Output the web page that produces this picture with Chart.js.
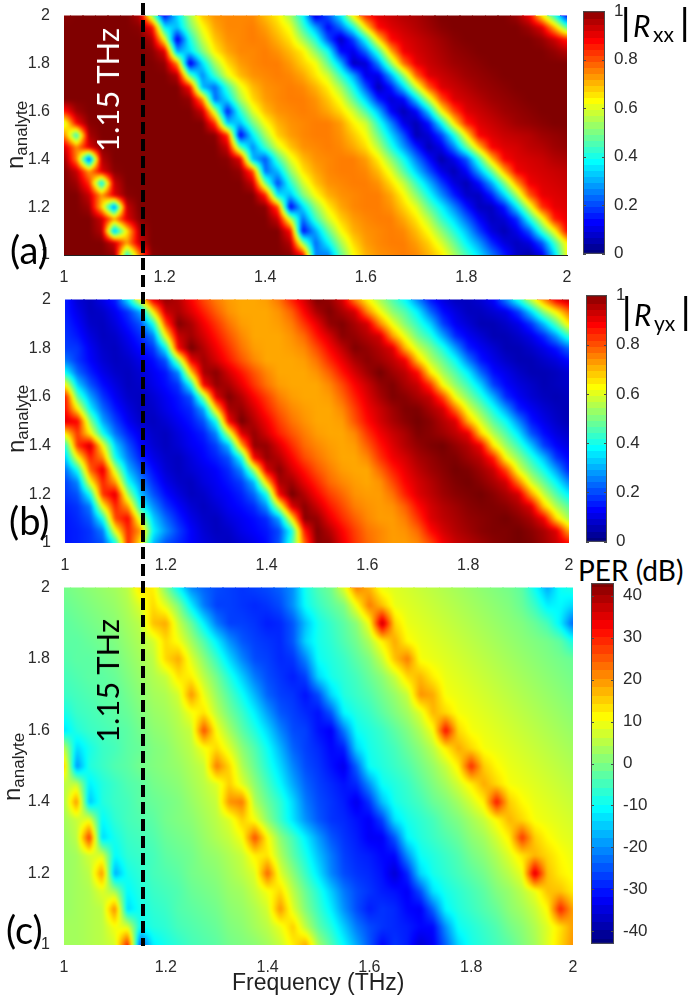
<!DOCTYPE html>
<html lang="en">
<head>
<meta charset="UTF-8">
<title>Rxx Ryx PER maps</title>
<script src="https://cdn.jsdelivr.net/npm/chart.js"></script>
<style>
    html, body { margin: 0; background: #fff; overflow: hidden; }
    #page { position: relative; width: 688px; height: 996px; }
    canvas { position: absolute; }
    .t { position: absolute; white-space: nowrap; color: #000; font-family: 'Lato', sans-serif; }
    .axis { font-family: 'Liberation Sans', sans-serif; color: #222; }
    .up { transform: translate(-50%, -50%) rotate(-90deg); }
    .axis sub { font-size: 17px; vertical-align: -4px; }
    #cut { position: absolute; left: 141px; top: 3px; width: 4px; height: 943px;
           background: repeating-linear-gradient(to bottom, #000 0 12px, transparent 12px 17px); }
</style>
</head>
<body>
<div id="page">
    <div class="t" style="left:578px;top:553px;font-size:28px">PER (dB)</div>
</div>
<script>
const freqs = [1,1.025,1.05,1.075,1.1,1.125,1.15,1.175,1.2,1.225,1.25,1.275,1.3,1.325,1.35,1.375,1.4,1.425,1.45,1.475,1.5,1.525,1.55,1.575,1.6,1.625,1.65,1.675,1.7,1.725,1.75,1.775,1.8,1.825,1.85,1.875,1.9,1.925,1.95,1.975,2];
const nAnalyte = [2,1.95,1.9,1.85,1.8,1.75,1.7,1.65,1.6,1.55,1.5,1.45,1.4,1.35,1.3,1.25,1.2,1.15,1.1,1.05,1];

// |Rxx| in percent, one row per nAnalyte value, top row first
const rxx = [
[96,97,97,97,97,97,92,50,12,33,52,66,71,72,72,72,67,62,52,37,8,20,35,62,82,88,90,92,93,95,97,97,97,97,97,97,94,86,62,40,12],
[97,97,97,97,97,97,96,85,35,30,47,60,69,72,72,73,70,65,59,43,28,12,22,38,63,84,88,90,92,94,96,97,97,97,97,97,97,94,88,68,45],
[97,97,97,97,97,97,97,93,60,9,38,55,66,71,72,73,72,68,63,52,40,20,6,18,38,64,84,88,90,92,94,96,97,97,97,97,97,97,95,90,82],
[97,97,97,97,97,97,97,96,88,28,33,48,62,69,72,72,73,71,67,62,50,38,13,10,22,42,68,86,89,91,93,95,96,97,97,97,97,97,97,95,92],
[97,97,97,97,97,97,97,97,95,72,8,33,52,64,70,72,73,73,70,65,60,46,30,6,8,25,50,74,87,90,92,94,95,96,97,97,97,97,97,97,97],
[97,97,97,97,97,97,97,97,97,92,45,25,42,58,67,71,72,73,72,69,63,56,42,28,10,10,28,50,75,88,90,92,94,95,96,97,97,97,97,97,97],
[97,97,97,97,97,97,97,97,97,97,85,30,22,42,58,67,71,72,73,72,68,62,52,38,20,5,14,32,55,76,88,90,92,94,95,96,97,97,97,97,97],
[97,97,97,97,97,97,97,97,97,97,95,72,22,33,52,64,70,72,73,73,71,66,59,46,32,15,8,12,32,55,77,88,90,92,94,95,96,97,97,97,97],
[82,94,97,97,97,97,97,97,97,97,97,90,55,14,40,57,67,71,72,73,72,69,64,56,44,30,12,5,12,32,60,78,88,90,92,94,95,96,97,97,97],
[55,85,96,97,97,97,97,97,97,97,97,97,80,32,30,47,60,68,71,72,73,73,70,62,56,40,25,10,5,14,36,62,82,88,90,92,94,95,96,97,97],
[74,40,93,97,97,97,97,97,97,97,97,97,96,80,10,35,52,65,70,72,73,73,71,66,60,47,33,20,5,8,18,38,62,85,88,90,91,92,94,95,96],
[90,72,88,96,97,97,97,97,97,97,97,97,97,90,45,25,42,57,66,71,72,73,72,69,64,54,40,27,15,5,10,24,45,66,85,88,89,91,92,94,95],
[96,72,18,92,97,97,97,97,97,97,97,97,97,96,88,30,20,43,58,67,71,72,73,73,70,62,50,38,24,13,4,10,20,42,66,85,88,89,90,92,93],
[97,90,70,88,96,97,97,97,97,97,97,97,97,97,95,78,22,30,50,63,69,72,73,73,72,67,58,45,32,20,10,5,12,28,46,68,86,88,89,90,91],
[97,94,80,34,90,97,97,97,97,97,97,97,97,97,97,90,48,18,40,56,66,71,72,73,73,71,64,55,42,30,18,9,5,13,28,48,70,86,88,89,90],
[97,97,90,70,88,96,97,97,97,97,97,97,97,97,97,97,82,35,30,48,60,68,71,72,73,73,69,61,50,38,26,15,7,6,15,32,52,76,87,88,89],
[97,97,94,65,22,90,97,97,97,97,97,97,97,97,97,97,96,78,10,33,50,62,69,72,73,73,71,65,58,46,36,25,14,6,6,14,34,56,80,87,88],
[97,97,97,90,70,88,96,97,97,97,97,97,97,97,97,97,97,90,55,22,42,56,65,70,72,73,73,69,63,54,42,33,22,12,6,8,16,38,58,82,87],
[97,97,97,92,28,62,92,97,97,97,97,97,97,97,97,97,97,97,84,12,28,46,60,68,71,72,73,72,67,60,50,40,30,18,9,5,10,20,42,60,85],
[97,97,97,97,90,70,90,97,97,97,97,97,97,97,97,97,97,97,92,50,22,36,52,64,70,72,73,73,70,65,57,47,36,27,16,9,6,9,20,42,62],
[97,97,97,97,95,38,72,96,97,97,97,97,97,97,97,97,97,97,96,85,25,24,45,60,68,71,72,73,72,68,63,53,43,34,24,15,7,4,10,32,60]
];

// |Ryx| in percent
const ryx = [
[15,8,6,10,15,35,62,88,95,92,85,78,73,70,69,69,70,74,82,89,97,95,89,72,61,52,44,36,24,14,9,6,6,8,12,25,40,56,72,87,92],
[15,10,6,7,11,17,28,62,90,93,88,82,76,71,69,69,69,71,76,85,93,97,93,89,72,60,50,44,35,22,13,9,6,6,8,10,18,33,50,62,75],
[16,12,7,6,9,14,20,38,78,97,93,86,80,74,70,69,69,70,73,80,87,95,97,93,89,72,59,49,41,32,18,11,8,5,5,7,10,17,30,45,63],
[17,14,9,6,7,11,16,24,60,90,94,89,83,77,72,69,69,69,71,75,83,89,96,95,92,89,70,58,47,40,28,16,11,8,5,5,7,10,16,27,42],
[18,17,11,7,6,9,13,17,36,85,98,92,86,80,74,70,69,69,70,72,78,85,91,97,95,92,88,68,56,48,39,27,15,11,8,5,5,7,10,14,22],
[24,17,12,8,6,7,10,13,20,50,86,94,89,83,77,72,69,69,69,70,74,81,87,93,96,94,91,86,66,54,46,37,24,14,10,7,5,5,7,9,13],
[38,22,15,10,7,6,8,11,14,25,65,93,96,89,83,77,72,69,69,69,71,76,83,89,94,98,94,91,84,63,52,44,35,22,13,10,7,5,5,6,8],
[62,32,20,13,9,6,7,10,13,17,38,85,95,93,87,80,74,70,69,69,69,72,78,85,90,95,97,93,90,80,60,50,42,32,18,12,9,7,5,6,7],
[85,45,28,17,11,7,6,8,11,14,20,50,88,97,92,85,79,73,70,69,69,70,75,82,88,93,97,96,93,90,78,59,49,40,29,16,11,8,6,5,6],
[85,62,36,22,14,9,6,7,10,13,16,28,65,93,95,89,82,76,72,70,69,69,72,79,86,90,94,97,97,93,89,74,58,48,38,27,15,11,8,6,5],
[88,85,50,28,18,11,7,6,8,11,14,20,38,85,98,92,86,79,74,71,69,69,70,77,84,89,93,96,98,96,92,88,68,56,45,37,25,14,10,7,5],
[62,80,62,38,23,15,10,7,6,9,12,15,25,55,88,95,89,82,77,73,70,69,69,72,80,86,90,93,97,96,94,91,87,65,53,44,34,20,13,9,7],
[38,80,90,60,32,20,12,8,6,8,11,13,18,30,68,95,95,88,81,75,72,70,69,70,76,83,88,92,95,97,98,95,92,86,63,51,42,31,18,12,9],
[30,60,82,72,38,24,15,10,7,6,9,12,15,20,38,85,95,92,85,78,74,71,69,69,72,80,86,89,93,95,97,97,94,91,82,60,50,40,30,17,12],
[22,38,75,88,55,30,20,13,8,6,8,10,12,16,25,52,88,96,89,83,77,73,70,69,69,75,82,87,91,94,96,98,97,94,90,78,58,47,38,27,15],
[18,25,60,82,70,38,25,16,10,7,6,9,11,14,18,30,65,93,94,87,81,75,72,70,69,71,78,85,89,92,95,97,98,96,93,89,73,56,46,36,25],
[17,20,38,80,88,52,30,20,13,9,6,7,10,12,15,22,38,85,98,92,85,79,75,71,70,70,74,82,88,91,94,96,97,98,96,93,89,70,55,44,35],
[15,17,24,60,82,70,38,26,17,12,8,6,8,11,13,16,26,55,88,96,90,83,78,73,71,70,71,76,84,89,92,94,96,97,97,96,93,88,66,53,45],
[14,16,20,38,78,85,55,32,22,15,10,7,6,9,11,13,16,28,62,96,95,87,81,76,72,70,70,73,80,88,91,93,95,96,97,98,96,93,86,64,52],
[14,15,17,24,60,82,70,36,26,18,12,8,6,7,10,12,14,19,38,82,97,92,85,79,74,72,70,71,75,84,89,92,94,96,97,97,98,96,93,88,68],
[14,15,17,20,38,82,62,30,20,16,12,9,7,6,8,10,13,20,42,75,96,95,87,80,75,72,70,70,72,78,86,90,92,94,96,97,98,97,94,90,84]
];

// PER in dB
const per = [
[-1,0,1,2,3,5,13,12,0,-11,-21,-24,-26,-27,-28,-27,-26,-24,-20,-9,-4,-1,8,22,17,9,8,7,6,5,4,3,2,1,0,-1,-3,-10,-18,-10,-8],
[-2,-1,0,1,2,4,8,14,8,0,-12,-22,-27,-27,-28,-29,-28,-26,-20,-10,-6,-3,0,10,22,16,9,8,7,6,5,4,3,2,1,0,-2,-6,-12,-11,-14],
[-3,-2,-1,0,1,3,5,16,18,6,-2,-12,-22,-27,-27,-28,-30,-29,-25,-16,-9,-6,-3,1,10,38,14,9,8,7,6,5,4,3,2,1,0,-2,-5,-12,-24],
[-3,-3,-2,-1,0,2,4,7,14,10,3,-4,-12,-20,-25,-27,-28,-29,-25,-14,-9,-7,-4,-1,4,12,18,11,9,8,7,6,5,4,3,2,1,0,-1,-3,-9],
[-4,-3,-3,-2,-1,1,3,5,14,18,8,1,-6,-14,-21,-26,-27,-29,-28,-21,-10,-8,-6,-3,0,6,16,22,10,9,8,7,6,5,4,3,2,1,0,-1,-2],
[-5,-4,-3,-3,-2,0,2,4,6,13,12,5,-1,-8,-15,-22,-26,-28,-30,-27,-14,-9,-7,-5,-2,1,6,14,17,12,9,8,7,6,5,4,3,2,1,0,-1],
[-6,-5,-4,-3,-3,-1,1,3,4,7,20,9,2,-4,-10,-17,-24,-27,-28,-31,-26,-14,-8,-6,-4,-1,2,6,20,18,10,9,8,7,6,5,4,3,2,1,0],
[-9,-6,-5,-4,-3,-2,0,2,3,5,10,13,5,-1,-6,-12,-19,-25,-27,-29,-31,-25,-11,-8,-6,-3,0,3,8,17,14,10,9,8,7,6,5,4,3,2,1],
[-13,-8,-6,-5,-4,-3,-1,1,2,4,6,26,10,3,-3,-8,-14,-21,-26,-27,-31,-33,-22,-10,-8,-6,-3,0,4,10,32,14,10,9,8,7,6,5,4,3,2],
[6,-14,-9,-6,-5,-3,-2,0,1,3,5,10,14,8,1,-4,-10,-17,-24,-27,-29,-32,-30,-14,-9,-7,-5,-2,1,5,12,18,14,10,9,8,7,6,5,4,3],
[16,-20,-8,-6,-4,-3,-1,0,1,2,4,6,22,14,4,-2,-8,-14,-21,-26,-28,-31,-34,-24,-10,-8,-6,-4,-1,2,6,12,29,15,11,9,8,7,6,5,4],
[5,6,-12,-8,-6,-4,-3,-1,0,1,3,5,8,15,8,1,-5,-11,-18,-24,-27,-29,-31,-29,-20,-10,-8,-6,-3,0,3,7,12,18,14,10,9,8,7,6,5],
[3,20,-16,-8,-6,-5,-3,-2,-1,0,2,4,6,20,22,4,-2,-7,-14,-22,-26,-28,-30,-34,-28,-16,-9,-7,-5,-2,0,3,7,12,31,15,11,9,8,7,6],
[3,6,9,-11,-7,-5,-4,-3,-1,0,1,3,5,8,15,10,1,-6,-13,-20,-25,-28,-29,-31,-33,-27,-13,-9,-7,-5,-2,0,3,6,11,17,14,10,9,8,7],
[2,5,28,-14,-9,-6,-5,-4,-2,-1,0,2,4,6,10,26,11,1,-5,-12,-19,-25,-28,-30,-33,-33,-25,-11,-8,-6,-4,-2,1,3,7,12,28,15,11,9,8],
[2,3,7,8,-11,-7,-6,-5,-3,-2,-1,1,2,4,6,12,13,4,-3,-9,-16,-22,-27,-29,-30,-32,-32,-20,-10,-8,-6,-4,-1,1,4,8,13,17,14,11,9],
[2,3,5,20,-18,-9,-7,-5,-4,-3,-1,0,1,3,5,8,24,8,1,-6,-13,-21,-26,-28,-29,-31,-36,-29,-14,-9,-7,-5,-3,-1,2,5,9,36,16,12,10],
[2,3,4,8,3,-11,-8,-6,-5,-4,-2,-1,0,2,3,6,10,14,5,-2,-8,-15,-22,-26,-28,-30,-31,-33,-26,-13,-9,-7,-5,-3,0,2,5,9,16,16,12],
[2,3,4,5,21,-14,-9,-7,-6,-4,-3,-2,-1,1,2,4,7,20,8,0,-6,-12,-20,-26,-30,-28,-29,-32,-33,-24,-11,-8,-6,-4,-2,1,3,6,11,30,18],
[3,3,4,5,10,8,-10,-8,-7,-5,-4,-3,-2,0,1,3,5,9,15,5,-3,-8,-15,-22,-26,-28,-29,-30,-32,-32,-20,-10,-8,-6,-4,-1,1,4,8,13,19],
[3,3,4,5,7,30,-26,-12,-9,-7,-5,-4,-3,-1,0,1,3,6,12,18,3,-4,-11,-18,-25,-32,-28,-30,-36,-33,-24,-14,-9,-7,-5,-3,0,3,8,14,20]
];

// colorbar steps and ticks
const reflectLevels = [100,97.5,95,92.5,90,87.5,85,82.5,80,77.5,75,72.5,70,67.5,65,62.5,60,57.5,55,52.5,50,47.5,45,42.5,40,37.5,35,32.5,30,27.5,25,22.5,20,17.5,15,12.5,10,7.5,5,2.5,0];
const perLevels = [43,41,39,37,35,33,31,29,27,25,23,21,19,17,15,13,11,9,7,5,3,1,-1,-3,-5,-7,-9,-11,-13,-15,-17,-19,-21,-23,-25,-27,-29,-31,-33,-35,-37,-39,-41,-43];
const reflectTicks = [0,20,40,60,80,100];
const perTicks = [-40,-30,-20,-10,0,10,20,30,40];
const axisTicks = [1,1.2,1.4,1.6,1.8,2];

const page = document.getElementById('page');
const tickColor = '#2b2b2b';

function jetRgb(t) {
    const c = x => Math.round(255 * Math.min(1, Math.max(0, 1.5 - Math.abs(4 * t - x))));
    return [c(3), c(2), c(1)];
}

const cellCache = {};
function cellCanvas(w, h, rgb) {
    const color = 'rgb(' + rgb.join(',') + ')';
    const key = w + '_' + h + '_' + color;
    if (!cellCache[key]) {
        const cv = document.createElement('canvas');
        cv.width = w;
        cv.height = h;
        const cx = cv.getContext('2d');
        cx.fillStyle = color;
        cx.fillRect(0, 0, w, h);
        cellCache[key] = cv;
    }
    return cellCache[key];
}

function cellStyle(cols, rows, lo, hi) {
    return function (c) {
        const a = c.chart.chartArea;
        if (!c.raw || !a) return 'rect';
        const w = Math.ceil((a.right - a.left) / cols) + 1;
        const h = Math.ceil((a.bottom - a.top) / rows) + 1;
        return cellCanvas(w, h, jetRgb((c.raw.v - lo) / (hi - lo)));
    };
}

// interpolated shading between the grid values, like shading interp in the original
const shade = {
    id: 'shade',
    afterDatasetsDraw(chart, args, opts) {
        if (!opts.rows) return;
        const a = chart.chartArea, sx = chart.scales.x, sy = chart.scales.y, ctx = chart.ctx;
        const left = Math.round(a.left), top = Math.round(a.top);
        const w = Math.round(a.right) - left, h = Math.round(a.bottom) - top;
        const img = ctx.createImageData(w, h);
        const nc = freqs.length - 1, nr = nAnalyte.length - 1;
        for (let py = 0; py < h; py++) {
            const n = sy.getValueForPixel(top + py + 0.5);
            const r = Math.min(nr - 0.001, Math.max(0, (nAnalyte[0] - n) / (nAnalyte[0] - nAnalyte[nr]) * nr));
            const r0 = Math.floor(r), rt = r - r0;
            for (let px = 0; px < w; px++) {
                const f = sx.getValueForPixel(left + px + 0.5);
                const q = Math.min(nc - 0.001, Math.max(0, (f - freqs[0]) / (freqs[nc] - freqs[0]) * nc));
                const c0 = Math.floor(q), ct = q - c0;
                const v = (opts.rows[r0][c0] * (1 - ct) + opts.rows[r0][c0 + 1] * ct) * (1 - rt)
                        + (opts.rows[r0 + 1][c0] * (1 - ct) + opts.rows[r0 + 1][c0 + 1] * ct) * rt;
                const rgb = jetRgb((v - opts.lo) / (opts.hi - opts.lo));
                const k = (py * w + px) * 4;
                img.data[k] = rgb[0]; img.data[k + 1] = rgb[1]; img.data[k + 2] = rgb[2]; img.data[k + 3] = 255;
            }
        }
        ctx.putImageData(img, left, top);
        const copy = document.createElement('canvas');
        copy.width = w;
        copy.height = h;
        copy.getContext('2d').putImageData(img, 0, 0);
        ctx.save();
        ctx.beginPath();
        ctx.rect(left, top, w, h);
        ctx.clip();
        ctx.filter = 'blur(1.5px)';
        ctx.drawImage(copy, left, top);
        ctx.restore();
    }
};

const barFrame = {
    id: 'barFrame',
    afterDraw(chart, args, opts) {
        if (!opts.on) return;
        const a = chart.chartArea, ctx = chart.ctx, y = chart.scales.y;
        ctx.save();
        ctx.strokeStyle = '#4a4a4a';
        ctx.lineWidth = 1;
        ctx.strokeRect(a.left + 0.5, a.top + 0.5, a.right - a.left - 1, a.bottom - a.top - 1);
        ctx.beginPath();
        y.ticks.forEach(t => {
            const p = Math.round(y.getPixelForValue(t.value)) + 0.5;
            ctx.moveTo(a.left, p); ctx.lineTo(a.left + 3, p);
            ctx.moveTo(a.right - 3, p); ctx.lineTo(a.right, p);
        });
        ctx.stroke();
        ctx.restore();
    }
};

function addCanvas(l, t, w, h) {
    const cv = document.createElement('canvas');
    cv.width = w;
    cv.height = h;
    cv.style.left = l + 'px';
    cv.style.top = t + 'px';
    page.appendChild(cv);
    return cv;
}

function drawMap(box, rows, lo, hi, dotted) {
    const cv = addCanvas(box.l - 46, box.t - 10, box.r - box.l + 58, box.b - box.t + 40);
    const data = [];
    nAnalyte.forEach((n, j) => freqs.forEach((f, i) => data.push({ x: f, y: n, v: rows[j][i] })));
    const ticks = { color: tickColor, font: { family: 'Liberation Sans', size: 16 }, maxRotation: 0, autoSkip: false,
        callback: v => String(+(+v).toFixed(1)) };
    const fixTicks = s => { s.ticks = axisTicks.map(v => ({ value: v })); };
    new Chart(cv, {
        type: 'scatter',
        data: { datasets: [{ data: data, pointRadius: 5, borderWidth: 0, clip: 0,
            pointStyle: cellStyle(freqs.length - 1, nAnalyte.length - 1, lo, hi) }] },
        options: {
            responsive: false, animation: false, events: [],
            layout: { padding: { top: 5, right: 12 } },
            plugins: { legend: { display: false }, tooltip: { enabled: false }, shade: { rows: rows, lo: lo, hi: hi }, barFrame: { on: false } },
            scales: {
                x: { type: 'linear', min: 1, max: 2, grid: { display: false },
                     border: dotted ? { display: true, color: '#222', dash: [2, 3], z: 1 } : { display: false },
                     ticks: Object.assign({ padding: 5 }, ticks), afterBuildTicks: fixTicks,
                     afterFit: s => { s.height = 30; } },
                y: { type: 'linear', min: 1, max: 2, grid: { display: false }, border: { display: false },
                     ticks: Object.assign({ padding: 6 }, ticks), afterBuildTicks: fixTicks,
                     afterFit: s => { s.width = 46; } }
            }
        },
        plugins: [shade, barFrame]
    });
}

function drawBar(box, levels, shown, scaleBy, fontSize) {
    const cv = addCanvas(box.l - 5, box.t - 10, box.r - box.l + 53, box.b - box.t + 20);
    const hi = levels[0], lo = levels[levels.length - 1];
    new Chart(cv, {
        type: 'scatter',
        data: { datasets: [{ data: levels.map(v => ({ x: 0, y: v, v: v })), pointRadius: 5, borderWidth: 0, clip: 0,
            pointStyle: cellStyle(1, levels.length - 1, lo, hi) }] },
        options: {
            responsive: false, animation: false, events: [],
            layout: { padding: { top: 10, bottom: 10 } },
            plugins: { legend: { display: false }, tooltip: { enabled: false }, shade: { rows: null }, barFrame: { on: true } },
            scales: {
                x: { type: 'linear', min: -0.5, max: 0.5, display: false },
                y: { type: 'linear', position: 'right', min: lo, max: hi, grid: { display: false }, border: { display: false },
                     ticks: { color: tickColor, font: { family: 'Liberation Sans', size: fontSize }, padding: 1, autoSkip: false,
                              callback: v => String(+(v * scaleBy).toFixed(1)) },
                     afterBuildTicks: s => { s.ticks = shown.map(v => ({ value: v })); },
                     afterFit: s => { s.width = 48; } }
            }
        },
        plugins: [shade, barFrame]
    });
}

drawMap({ l: 64, r: 567, t: 10, b: 255 }, rxx, 0, 97, true);
drawMap({ l: 65, r: 569, t: 294, b: 543 }, ryx, 0, 97, false);
drawMap({ l: 64, r: 573, t: 582, b: 945 }, per, -43, 43, false);
drawBar({ l: 583, r: 605, t: 10, b: 255 }, reflectLevels, reflectTicks, 0.01, 17);
drawBar({ l: 586, r: 607, t: 294, b: 543 }, reflectLevels, reflectTicks, 0.01, 17);
drawBar({ l: 591, r: 614, t: 582, b: 945 }, perLevels, perTicks, 1, 17);

function label(html, css, cls) {
    const d = document.createElement('div');
    d.className = cls || 't';
    d.style.cssText = css;
    d.innerHTML = html;
    page.appendChild(d);
}
const cut = document.createElement('div');
cut.id = 'cut';
page.appendChild(cut);

label('1.15 THz', 'left:107px;top:90px;font-size:31px;color:#fff', 't up');
label('1.15 THz', 'left:107px;top:681px;font-size:31px', 't up');
label('(a)', 'left:10px;top:226px;font-size:38px');
label('(b)', 'left:9px;top:497px;font-size:38px');
label('(c)', 'left:6px;top:906px;font-size:38px');

label('n<sub>analyte</sub>', 'left:16px;top:135px;font-size:24px', 't axis up');
label('n<sub>analyte</sub>', 'left:17px;top:419px;font-size:24px', 't axis up');
label('n<sub>analyte</sub>', 'left:13px;top:767px;font-size:24px', 't axis up');
label('Frequency (THz)', 'left:232px;top:969px;font-size:23px', 't axis');

function reflectTitle(top, sub, left) {
    label('|', 'left:' + left + 'px;top:' + (top - 6) + 'px;font-size:36px;font-family:Liberation Sans');
    label('<i>R</i>', 'left:' + (left + 12) + 'px;top:' + top + 'px;font-size:30px');
    label(sub, 'left:' + (left + 32) + 'px;top:' + (top + 14) + 'px;font-size:21px');
    label('|', 'left:' + (left + 59) + 'px;top:' + (top - 6) + 'px;font-size:36px;font-family:Liberation Sans');
}
reflectTitle(7, 'xx', 621);
reflectTitle(296, 'yx', 622);
</script>
</body>
</html>
